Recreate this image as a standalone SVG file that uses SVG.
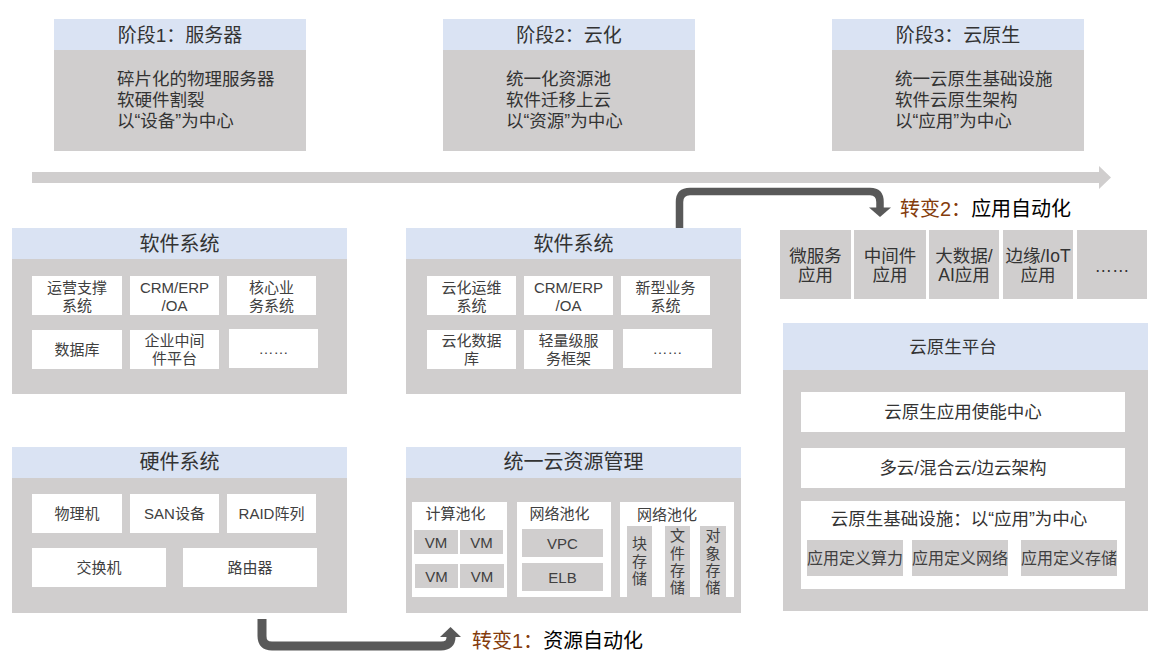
<svg xmlns="http://www.w3.org/2000/svg" width="1164" height="661" viewBox="0 0 1164 661">
<style>
text{font-family:"Liberation Sans","Noto Sans CJK SC",sans-serif;fill:#333;dominant-baseline:central;text-anchor:middle}
.hd{fill:#dae3f3}
.gr{fill:#d0cece}
.wh{fill:#fff}
.t20{font-size:20px;fill:#333}
.t19{font-size:19px;fill:#333}
.t17{font-size:17.5px;fill:#333}
.body{font-size:17.5px;fill:#333;text-anchor:start}
.t15{font-size:15px;fill:#404040}
.t16{font-size:16px;fill:#404040}
.lab{font-size:20px;text-anchor:start;fill:#000}
.brown{fill:#843c0c}
.conn{fill:none;stroke:#595959;stroke-linejoin:round}
.head{fill:#595959}
</style>
<rect width="1164" height="661" fill="#fff"/>

<g id="timeline">
<polygon class="gr" points="32,172 1099,172 1099,166 1111,177.5 1099,189 1099,183 32,183"/>
</g>

<g id="stage1">
<rect class="gr" x="54" y="19" width="252" height="132"/>
<rect class="hd" x="54" y="19" width="252" height="31"/>
<text class="t19" x="180" y="35">阶段1：服务器</text>
<text class="body" x="117" y="79">碎片化的物理服务器</text>
<text class="body" x="117" y="100">软硬件割裂</text>
<text class="body" x="117" y="121">以“设备”为中心</text>
</g>
<g id="stage2">
<rect class="gr" x="443" y="19" width="252" height="132"/>
<rect class="hd" x="443" y="19" width="252" height="31"/>
<text class="t19" x="569" y="35">阶段2：云化</text>
<text class="body" x="506" y="79">统一化资源池</text>
<text class="body" x="506" y="100">软件迁移上云</text>
<text class="body" x="506" y="121">以“资源”为中心</text>
</g>
<g id="stage3">
<rect class="gr" x="832" y="19" width="252" height="132"/>
<rect class="hd" x="832" y="19" width="252" height="31"/>
<text class="t19" x="958" y="35">阶段3：云原生</text>
<text class="body" x="895" y="79">统一云原生基础设施</text>
<text class="body" x="895" y="100">软件云原生架构</text>
<text class="body" x="895" y="121">以“应用”为中心</text>
</g>

<g id="software1">
<rect class="gr" x="12" y="228" width="335" height="166"/>
<rect class="hd" x="12" y="228" width="335" height="31"/>
<text class="t20" x="179.5" y="244">软件系统</text>
<rect class="wh" x="32" y="276" width="90" height="39"/>
<rect class="wh" x="130" y="276" width="89" height="39"/>
<rect class="wh" x="227" y="276" width="89" height="39"/>
<rect class="wh" x="32" y="330" width="90" height="39"/>
<rect class="wh" x="130" y="330" width="89" height="39"/>
<rect class="wh" x="229" y="329" width="89" height="39"/>
<text class="t15" x="77" y="287">运营支撑</text><text class="t15" x="77" y="305">系统</text>
<text class="t15" x="174.5" y="287">CRM/ERP</text><text class="t15" x="174.5" y="305">/OA</text>
<text class="t15" x="271.5" y="287">核心业</text><text class="t15" x="271.5" y="305">务系统</text>
<text class="t15" x="77" y="349">数据库</text>
<text class="t15" x="174.5" y="340">企业中间</text><text class="t15" x="174.5" y="358">件平台</text>
<text class="t15" x="273.5" y="348">……</text>
</g>

<g id="software2">
<rect class="gr" x="406" y="228" width="335" height="166"/>
<rect class="hd" x="406" y="228" width="335" height="31"/>
<text class="t20" x="573.5" y="244">软件系统</text>
<rect class="wh" x="427" y="276" width="89" height="39"/>
<rect class="wh" x="524" y="276" width="89" height="39"/>
<rect class="wh" x="621" y="276" width="89" height="39"/>
<rect class="wh" x="427" y="330" width="89" height="39"/>
<rect class="wh" x="524" y="330" width="89" height="39"/>
<rect class="wh" x="623" y="329" width="89" height="39"/>
<text class="t15" x="471.5" y="287">云化运维</text><text class="t15" x="471.5" y="305">系统</text>
<text class="t15" x="568.5" y="287">CRM/ERP</text><text class="t15" x="568.5" y="305">/OA</text>
<text class="t15" x="665.5" y="287">新型业务</text><text class="t15" x="665.5" y="305">系统</text>
<text class="t15" x="471.5" y="340">云化数据</text><text class="t15" x="471.5" y="358">库</text>
<text class="t15" x="568.5" y="340">轻量级服</text><text class="t15" x="568.5" y="358">务框架</text>
<text class="t15" x="667.5" y="348">……</text>
</g>

<g id="hardware">
<rect class="gr" x="12" y="447" width="335" height="166"/>
<rect class="hd" x="12" y="447" width="335" height="31"/>
<text class="t20" x="179.5" y="462">硬件系统</text>
<rect class="wh" x="32" y="494" width="90" height="39"/>
<rect class="wh" x="130" y="494" width="89" height="39"/>
<rect class="wh" x="227" y="494" width="89" height="39"/>
<rect class="wh" x="32" y="548" width="134" height="39"/>
<rect class="wh" x="183" y="548" width="134" height="39"/>
<text class="t15" x="77" y="513.5">物理机</text>
<text class="t15" x="174.5" y="513.5">SAN设备</text>
<text class="t15" x="271.5" y="513.5">RAID阵列</text>
<text class="t15" x="99" y="567.5">交换机</text>
<text class="t15" x="250" y="567.5">路由器</text>
</g>

<g id="resource">
<rect class="gr" x="406" y="447" width="335" height="166"/>
<rect class="hd" x="406" y="447" width="335" height="31"/>
<text class="t20" x="573.5" y="462">统一云资源管理</text>
<rect class="wh" x="412" y="502" width="95" height="95"/>
<rect class="wh" x="517" y="502" width="94" height="95"/>
<rect class="wh" x="620" y="502" width="114" height="95"/>
<text class="t15" x="455.5" y="513">计算池化</text>
<text class="t15" x="559.5" y="513">网络池化</text>
<text class="t15" x="667" y="514">网络池化</text>
<rect class="gr" x="414" y="530" width="44" height="24"/>
<rect class="gr" x="460" y="530" width="43" height="24"/>
<rect class="gr" x="415" y="564" width="43" height="24"/>
<rect class="gr" x="460" y="564" width="44" height="24"/>
<text class="t15" x="436" y="542">VM</text>
<text class="t15" x="481.5" y="542">VM</text>
<text class="t15" x="436.5" y="576">VM</text>
<text class="t15" x="482" y="576">VM</text>
<rect class="gr" x="522" y="529" width="81" height="28"/>
<rect class="gr" x="522" y="563" width="81" height="28"/>
<text class="t15" x="562.5" y="543">VPC</text>
<text class="t15" x="562.5" y="577">ELB</text>
<rect class="gr" x="627" y="526" width="25" height="71"/>
<rect class="gr" x="665" y="526" width="25" height="71"/>
<rect class="gr" x="700" y="526" width="26" height="71"/>
<text class="t15" x="639.5" y="543">块</text><text class="t15" x="639.5" y="561">存</text><text class="t15" x="639.5" y="578">储</text>
<text class="t15" x="677.5" y="535">文</text><text class="t15" x="677.5" y="553">件</text><text class="t15" x="677.5" y="570">存</text><text class="t15" x="677.5" y="587">储</text>
<text class="t15" x="713" y="535">对</text><text class="t15" x="713" y="553">象</text><text class="t15" x="713" y="570">存</text><text class="t15" x="713" y="587">储</text>
</g>

<g id="apps">
<rect class="gr" x="780" y="230" width="71" height="69"/>
<rect class="gr" x="854" y="230" width="72" height="69"/>
<rect class="gr" x="929" y="230" width="70" height="69"/>
<rect class="gr" x="1003" y="230" width="70" height="69"/>
<rect class="gr" x="1077" y="230" width="70" height="69"/>
<text class="t17" x="815.5" y="256">微服务</text><text class="t17" x="815.5" y="275">应用</text>
<text class="t17" x="890" y="256">中间件</text><text class="t17" x="890" y="275">应用</text>
<text class="t17" x="964" y="256">大数据/</text><text class="t17" x="964" y="275">AI应用</text>
<text class="t17" x="1038" y="256">边缘/IoT</text><text class="t17" x="1038" y="275">应用</text>
<text class="t17" x="1112" y="266">……</text>
</g>

<g id="platform">
<rect class="gr" x="783" y="323" width="365" height="288"/>
<rect class="hd" x="783" y="323" width="365" height="47"/>
<text class="t17" x="953" y="346.5">云原生平台</text>
<rect class="wh" x="801" y="392" width="324" height="40"/>
<rect class="wh" x="801" y="448" width="324" height="40"/>
<rect class="wh" x="801" y="501" width="324" height="88"/>
<text class="t17" x="963" y="412">云原生应用使能中心</text>
<text class="t17" x="963" y="468">多云/混合云/边云架构</text>
<text class="t17" x="959" y="519">云原生基础设施：以“应用”为中心</text>
<rect class="gr" x="807" y="540" width="96" height="36"/>
<rect class="gr" x="912" y="540" width="96" height="36"/>
<rect class="gr" x="1021" y="540" width="96" height="36"/>
<text class="t16" x="855" y="558">应用定义算力</text>
<text class="t16" x="960" y="558">应用定义网络</text>
<text class="t16" x="1069" y="558">应用定义存储</text>
</g>

<g id="connectors">
<path class="conn" stroke-width="9" d="M262 619 V636 Q262 646 272 646 H441 Q451 646 451 637"/>
<polygon class="head" points="440,637 461,637 450.5,627"/>
<path class="conn" stroke-width="7.5" d="M679.5 228 V202 Q679.5 191.5 690 191.5 H870 Q880 191.5 880 202 V208"/>
<polygon class="head" points="869,207.5 891,207.5 880,217"/>
</g>

<g id="labels">
<text class="lab" x="472" y="641"><tspan class="brown">转变1：</tspan>资源自动化</text>
<text class="lab" x="900" y="209"><tspan class="brown">转变2：</tspan>应用自动化</text>
</g>
</svg>
